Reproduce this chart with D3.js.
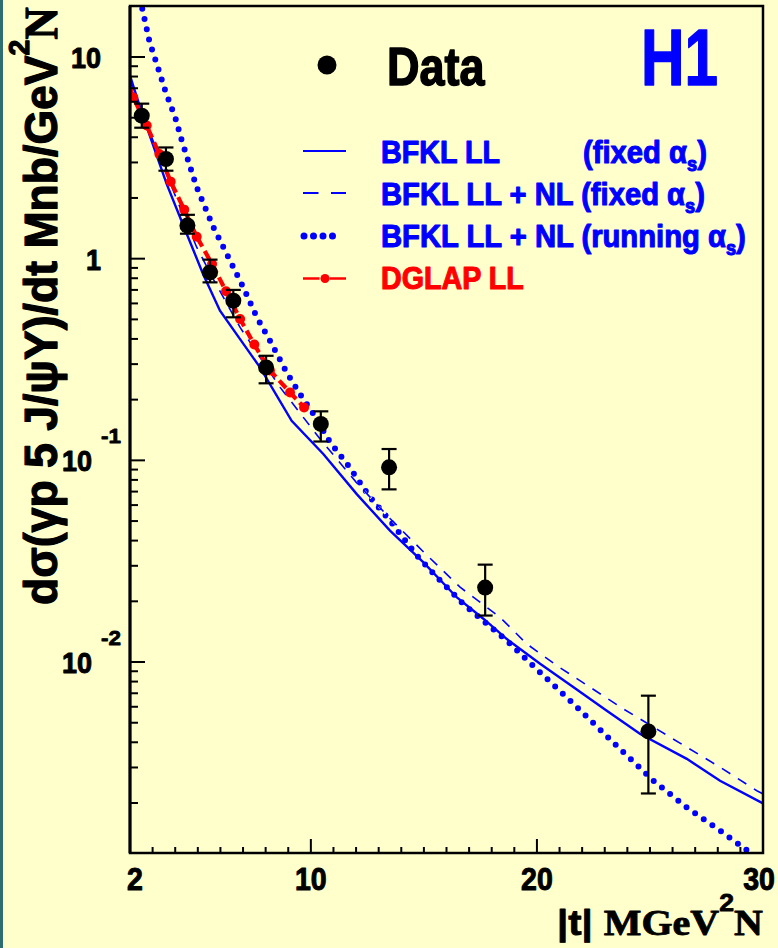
<!DOCTYPE html>
<html><head><meta charset="utf-8">
<script src="https://cdn.jsdelivr.net/npm/d3@7"></script>
<style>html,body{margin:0;padding:0;background:#ffffcc;} svg{display:block}</style>
</head><body>
<script>
// ---------- data ----------
const dataT     = [2.52, 3.59, 4.54, 5.54, 6.57, 8.02, 10.44, 13.46, 17.71, 24.93];
const dataSigma = [5.12, 3.12, 1.46, 0.855, 0.619, 0.289, 0.1515, 0.0923, 0.0234, 0.00453];
const dataHigh  = [5.87, 3.56, 1.65, 0.989, 0.70, 0.330, 0.175, 0.1138, 0.0304, 0.00681];
const dataLow   = [4.46, 2.73, 1.33, 0.763, 0.512, 0.241, 0.124, 0.0718, 0.0170, 0.00223];

const bfklLL_t = [2.0, 2.52, 3.62, 4.36, 5.23, 5.98, 7.75, 9.15, 10.55, 12.03, 13.5, 14.98, 16.46, 17.63, 18.67, 20.14, 21.62, 23.09, 24.57, 26.63, 28.1, 30];
const bfklLL_s = [8.08, 5.3, 2.35, 1.46, 0.84, 0.552, 0.289, 0.157, 0.1076, 0.068, 0.0448, 0.0312, 0.0209, 0.0164, 0.0130, 0.0098, 0.0075, 0.00574, 0.0044, 0.00331, 0.00258, 0.00199];

const bfklNLfix_t = [2.0, 3.0, 4.21, 4.95, 5.76, 6.87, 8.64, 10.4, 12.0, 13.5, 15.0, 16.6, 18.37, 19.55, 20.88, 22.35, 23.83, 26.63, 28.1, 29.73, 30];
const bfklNLfix_s = [7.6, 3.9, 1.80, 1.14, 0.763, 0.456, 0.230, 0.128, 0.078, 0.0515, 0.035, 0.0235, 0.01666, 0.0123, 0.0096, 0.0075, 0.00585, 0.00378, 0.00301, 0.0023, 0.00222];

const bfklNLrun_t = [2.45, 2.53, 2.87, 3.16, 3.56, 4.02, 4.29, 4.95, 5.69, 6.28, 7.01, 7.61, 8.19, 8.93, 9.52, 10.11, 10.85, 11.66, 12.62, 13.5, 14.69, 15.72, 16.75, 17.63, 18.67, 20.14, 21.62, 23.68, 25.15, 26.63, 28.1, 29.5, 30];
const bfklNLrun_s = [19.5, 17.6, 11.8, 9.4, 6.8, 4.93, 3.85, 2.26, 1.43, 1.055, 0.721, 0.512, 0.392, 0.273, 0.213, 0.170, 0.123, 0.094, 0.0656, 0.0502, 0.0337, 0.02535, 0.0194, 0.016, 0.01277, 0.00889, 0.0062, 0.0037, 0.00258, 0.0019, 0.00146, 0.00112, 0.00105];

const dglap_t = [2.0, 2.146, 2.74, 3.30, 3.80, 4.40, 4.95, 5.63, 6.25, 6.87, 7.5, 8.19, 9.08, 9.70];
const dglap_s = [7.07, 6.3, 4.57, 3.30, 2.41, 1.75, 1.285, 0.941, 0.689, 0.502, 0.375, 0.279, 0.217, 0.183];

const xTickValues = [2, 10, 20, 30];
const xTickLabels = ["2", "10", "20", "30"];
const yTickValues = [10, 1, 0.1, 0.01];
const yTickBase   = ["10", "1", "10", "10"];
const yTickExp    = ["", "", "-1", "-2"];

const legendLabels = ["BFKL LL", "BFKL LL + NL (fixed α", "BFKL LL + NL (running α", "DGLAP LL"];

// ---------- setup ----------
const W = 778, H = 948;
const BG = "#ffffcc", BLUE = "#0000ff", RED = "#ff0000";
const SANS = "'Liberation Sans', Arial, sans-serif";
const SERIF = "'Liberation Serif', 'Times New Roman', serif";
const L = 130, R = 763, T = 6, B = 853;

const svg = d3.select("body").append("svg").attr("width", W).attr("height", H);
svg.append("rect").attr("width", W).attr("height", H).attr("fill", BG);
svg.append("rect").attr("x", 0).attr("y", 0).attr("width", 3).attr("height", H).attr("fill", "#2f6e6e");

const x = d3.scaleLinear().domain([2, 30]).range([L, R]);
const y = d3.scaleLog().domain([0.00113, 17.9]).range([B, T]);

svg.append("clipPath").attr("id", "clip").append("rect")
  .attr("x", L).attr("y", T).attr("width", R - L).attr("height", B - T);

const plot = svg.append("g").attr("clip-path", "url(#clip)");
const line = d3.line().x(d => x(d[0])).y(d => y(d[1]));
const zip = (a, b) => a.map((v, i) => [v, b[i]]);

// curves
plot.append("path").attr("d", line(zip(bfklNLrun_t, bfklNLrun_s)))
  .attr("fill", "none").attr("stroke", BLUE).attr("stroke-width", 6)
  .attr("stroke-linecap", "round").attr("stroke-dasharray", "0,10.5");
const fixPath = line(zip(bfklNLfix_t, bfklNLfix_s));
plot.append("path").attr("d", fixPath)
  .attr("fill", "none").attr("stroke", "#ffffff").attr("stroke-width", 2.2)
  .attr("stroke-dasharray", "3,4");
plot.append("path").attr("d", fixPath)
  .attr("fill", "none").attr("stroke", BLUE).attr("stroke-width", 1.6)
  .attr("stroke-dasharray", "10,9");
plot.append("path").attr("d", line(zip(bfklLL_t, bfklLL_s)))
  .attr("fill", "none").attr("stroke", BLUE).attr("stroke-width", 2.4);
plot.append("path").attr("d", line(zip(dglap_t, dglap_s)))
  .attr("fill", "none").attr("stroke", RED).attr("stroke-width", 4.2)
  .attr("stroke-dasharray", "10,5");
plot.selectAll("circle.dg").data(zip(dglap_t, dglap_s).slice(1)).enter().append("circle")
  .attr("cx", d => x(d[0])).attr("cy", d => y(d[1])).attr("r", 5).attr("fill", RED);

// data points
const pts = dataT.map((t, i) => ({t, s: dataSigma[i], hi: dataHigh[i], lo: dataLow[i]}));
const pg = plot.selectAll("g.pt").data(pts).enter().append("g");
pg.append("line").attr("x1", d => x(d.t)).attr("x2", d => x(d.t))
  .attr("y1", d => y(d.hi)).attr("y2", d => y(d.lo)).attr("stroke", "#000").attr("stroke-width", 2.2);
pg.append("line").attr("x1", d => x(d.t) - 7.5).attr("x2", d => x(d.t) + 7.5)
  .attr("y1", d => y(d.hi)).attr("y2", d => y(d.hi)).attr("stroke", "#000").attr("stroke-width", 2.2);
pg.append("line").attr("x1", d => x(d.t) - 7.5).attr("x2", d => x(d.t) + 7.5)
  .attr("y1", d => y(d.lo)).attr("y2", d => y(d.lo)).attr("stroke", "#000").attr("stroke-width", 2.2);
pg.append("circle").attr("cx", d => x(d.t)).attr("cy", d => y(d.s)).attr("r", 8).attr("fill", "#000");

// frame
svg.append("rect").attr("x", L).attr("y", T).attr("width", R - L).attr("height", B - T)
  .attr("fill", "none").attr("stroke", "#000").attr("stroke-width", 2.5);
svg.append("line").attr("x1", L).attr("x2", L).attr("y1", T).attr("y2", B).attr("stroke", "#000").attr("stroke-width", 3);

// y ticks
const yMinor = [];
for (let e = -3; e <= 1; e++) for (let m = 1; m <= 9; m++) {
  const v = m * Math.pow(10, e);
  if (v >= 0.00113 && v <= 17.9) yMinor.push([v, m === 1]);
}
svg.selectAll("line.yt").data(yMinor).enter().append("line")
  .attr("x1", L).attr("x2", d => L + (d[1] ? 15 : 8))
  .attr("y1", d => y(d[0])).attr("y2", d => y(d[0]))
  .attr("stroke", "#000").attr("stroke-width", 2);

// x ticks
const xMinor = d3.range(3, 30);
svg.selectAll("line.xt").data(xMinor).enter().append("line")
  .attr("x1", d => x(d)).attr("x2", d => x(d))
  .attr("y1", B).attr("y2", d => B - (d % 10 === 0 ? 14 : 6))
  .attr("stroke", "#000").attr("stroke-width", 2);

// helper: fit text horizontally
function fit(sel, width) {
  const w = sel.node().getBBox().width;
  sel.attr("transform", `scale(${width / w},1)`);
}
function heavy(sel, color, w) {
  sel.attr("stroke", color).attr("stroke-width", w).attr("stroke-linejoin", "round");
}

// y tick labels
yTickValues.forEach((v, i) => {
  const hasExp = yTickExp[i] !== "";
  const g = svg.append("g").attr("transform", `translate(${hasExp ? 92 : 101},${y(v) + 11})`);
  const t = g.append("text").attr("text-anchor", "end").attr("font-family", SANS)
    .attr("font-weight", "bold").attr("font-size", 30).text(yTickBase[i]);
  t.attr("transform", "scale(0.9,1)");
  heavy(t, "#000", 1);
  if (hasExp) {
    const s = svg.append("text").attr("x", 101).attr("y", y(v) - 17).attr("font-family", SANS)
      .attr("font-weight", "bold").attr("font-size", 21).attr("textLength", 20)
      .attr("lengthAdjust", "spacingAndGlyphs").text(yTickExp[i]);
    heavy(s, "#000", 0.8);
  }
});

// x tick labels
xTickValues.forEach((v, i) => {
  const cx = Math.max(135, Math.min(759, x(v)));
  const g = svg.append("g").attr("transform", `translate(${cx},890)`);
  const t = g.append("text").attr("text-anchor", "middle").attr("font-family", SANS)
    .attr("font-weight", "bold").attr("font-size", 31).attr("transform", "scale(0.92,1)")
    .text(xTickLabels[i]);
  heavy(t, "#000", 1);
});

// x axis title
{
  const g = svg.append("g").attr("transform", "translate(557,935)");
  const t = g.append("text").attr("font-weight", "bold").attr("font-size", 36);
  t.append("tspan").attr("font-family", SANS).text("|t| ");
  t.append("tspan").attr("font-family", SERIF).text("MGeV");
  t.append("tspan").attr("font-family", SANS).attr("font-size", 24).attr("dy", -24).text("2");
  t.append("tspan").attr("font-family", SERIF).attr("dy", 24).text("N");
  fit(t, 206);
  heavy(t, "#000", 0.8);
}

// y axis title
{
  const g = svg.append("g").attr("transform", "translate(57,605) rotate(-90)");
  const t = g.append("text").attr("font-weight", "bold").attr("font-size", 47).attr("font-family", SANS);
  t.append("tspan").text("dσ(γp 5 J/ψY)/dt Mnb/GeV");
  t.append("tspan").attr("font-size", 30).attr("dy", -28).text("2");
  t.append("tspan").attr("font-family", SERIF).attr("dy", 28).text("N");
  fit(t, 598);
  heavy(t, "#000", 1.2);
}

// H1 label
{
  const g = svg.append("g").attr("transform", "translate(641,85)");
  const t = g.append("text").attr("font-family", SANS).attr("font-weight", "bold")
    .attr("font-size", 80).attr("fill", BLUE).text("H1");
  fit(t, 77);
  heavy(t, BLUE, 1.5);
}

// legend: Data
svg.append("circle").attr("cx", 327).attr("cy", 65).attr("r", 9.5).attr("fill", "#000");
{
  const g = svg.append("g").attr("transform", "translate(387,85)");
  const t = g.append("text").attr("font-family", SANS).attr("font-weight", "bold")
    .attr("font-size", 53).attr("fill", "#000").text("Data");
  fit(t, 98);
  heavy(t, "#000", 1.5);
}

// legend lines
const lx1 = 303, lx2 = 346;
svg.append("line").attr("x1", lx1).attr("x2", lx2).attr("y1", 151).attr("y2", 151)
  .attr("stroke", BLUE).attr("stroke-width", 2);
svg.append("line").attr("x1", lx1).attr("x2", lx2).attr("y1", 193).attr("y2", 193)
  .attr("stroke", BLUE).attr("stroke-width", 2).attr("stroke-dasharray", "15.5,12.5");
svg.append("line").attr("x1", 304).attr("x2", 342).attr("y1", 236).attr("y2", 236)
  .attr("stroke", BLUE).attr("stroke-width", 7).attr("stroke-linecap", "round").attr("stroke-dasharray", "0,9.5");
svg.append("line").attr("x1", lx1).attr("x2", 319.5).attr("y1", 278.5).attr("y2", 278.5)
  .attr("stroke", RED).attr("stroke-width", 2.5);
svg.append("line").attr("x1", 329.5).attr("x2", lx2).attr("y1", 278.5).attr("y2", 278.5)
  .attr("stroke", RED).attr("stroke-width", 2.5);
svg.append("circle").attr("cx", 325).attr("cy", 278.5).attr("r", 4.5).attr("fill", RED);

// legend texts
function legendText(xp, yp, width, color, build) {
  const g = svg.append("g").attr("transform", `translate(${xp},${yp})`);
  const t = g.append("text").attr("font-family", SANS).attr("font-weight", "bold")
    .attr("font-size", 32).attr("fill", color);
  build(t);
  fit(t, width);
  heavy(t, color, 1.1);
}
legendText(381, 163, 119, BLUE, t => t.text(legendLabels[0]));
legendText(583, 163, 124, BLUE, t => {
  t.append("tspan").text("(fixed α");
  t.append("tspan").attr("font-size", 20).attr("dy", 8).text("s");
  t.append("tspan").attr("dy", -8).text(")");
});
legendText(381, 205, 324, BLUE, t => {
  t.append("tspan").text(legendLabels[1]);
  t.append("tspan").attr("font-size", 20).attr("dy", 8).text("s");
  t.append("tspan").attr("dy", -8).text(")");
});
legendText(381, 247, 365, BLUE, t => {
  t.append("tspan").text(legendLabels[2]);
  t.append("tspan").attr("font-size", 20).attr("dy", 8).text("s");
  t.append("tspan").attr("dy", -8).text(")");
});
legendText(381, 289, 143, RED, t => t.text(legendLabels[3]));
</script>
</body></html>
